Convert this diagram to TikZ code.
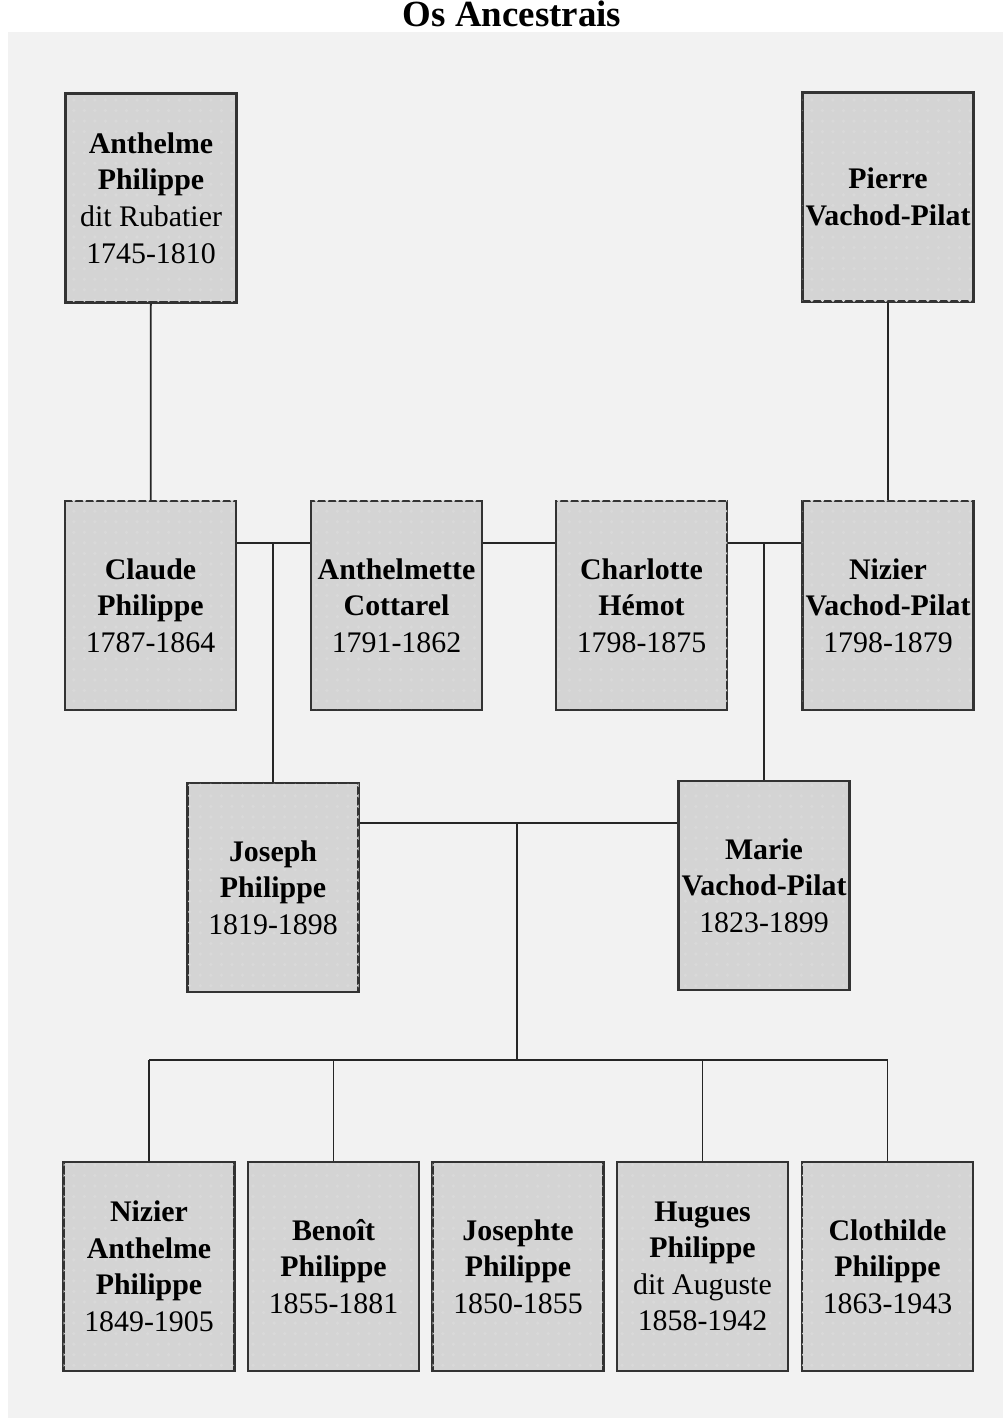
\documentclass[tikz,border=0pt]{standalone}
\usepackage{fontspec}
\setmainfont{Liberation Serif}
\usetikzlibrary{patterns}

\tikzset{
    person/.style={draw=black!80, line width=0.6pt, fill=black!17,
        postaction={pattern=dots, pattern color=white!85!black},
        minimum width=1.71cm, minimum height=2.09cm, inner sep=0pt,
        align=center, font=\fontsize{8.5}{10.4}\selectfont},
    link/.style={draw=black!85, line width=0.5pt}
}

\begin{document}
\begin{tikzpicture}
            \useasboundingbox (0,0) rectangle (10.03,14.18);
            \fill[black!5] (0.08,0) rectangle (10.03,13.86);
            \node[font=\fontsize{10.5}{12}\selectfont\bfseries, anchor=base] (title) at (5.12,13.91) {Os Ancestrais};
            % first generation
            \node[person] (anth) at (1.51,12.20) {\textbf{Anthelme}\\\textbf{Philippe}\\dit Rubatier\\1745-1810};
            \node[person] (pierre) at (8.88,12.21) {\textbf{Pierre}\\\textbf{Vachod-Pilat}};
            % second generation
            \node[person] (claude) at (1.505,8.125) {\textbf{Claude}\\\textbf{Philippe}\\1787-1864};
            \node[person] (anthm) at (3.965,8.125) {\textbf{Anthelmette}\\\textbf{Cottarel}\\1791-1862};
            \node[person] (charl) at (6.415,8.125) {\textbf{Charlotte}\\\textbf{Hémot}\\1798-1875};
            \node[person] (nizvp) at (8.88,8.125) {\textbf{Nizier}\\\textbf{Vachod-Pilat}\\1798-1879};
            % third generation
            \node[person] (joseph) at (2.73,5.305) {\textbf{Joseph}\\\textbf{Philippe}\\1819-1898};
            \node[person] (marie) at (7.64,5.325) {\textbf{Marie}\\\textbf{Vachod-Pilat}\\1823-1899};
            % children
            \node[person] (nizap) at (1.49,1.515) {\textbf{Nizier}\\\textbf{Anthelme}\\\textbf{Philippe}\\1849-1905};
            \node[person] (benoit) at (3.335,1.515) {\textbf{Benoît}\\\textbf{Philippe}\\1855-1881};
            \node[person] (josephte) at (5.18,1.515) {\textbf{Josephte}\\\textbf{Philippe}\\1850-1855};
            \node[person] (hugues) at (7.025,1.515) {\textbf{Hugues}\\\textbf{Philippe}\\dit Auguste\\1858-1942};
            \node[person] (cloth) at (8.875,1.515) {\textbf{Clothilde}\\\textbf{Philippe}\\1863-1943};
            % junctions
            \coordinate (w1) at (2.73,8.75);
            \coordinate (w2) at (7.64,8.75);
            \coordinate (w3) at (5.17,5.95);
            \coordinate (w4) at (5.17,3.58);
            % lines
            \draw[link] (anth) -- (claude);
            \draw[link] (pierre) -- (nizvp);
            \draw[link] (claude.east |- w1) -- (anthm.west |- w1);
            \draw[link] (anthm.east |- w1) -- (charl.west |- w1);
            \draw[link] (charl.east |- w2) -- (nizvp.west |- w2);
            \draw[link] (w1) -- (joseph.north);
            \draw[link] (w2) -- (marie.north);
            \draw[link] (joseph.east |- w3) -- (marie.west |- w3);
            \draw[link] (w3) -- (w4);
            \draw[link] (nizap.north |- w4) -- (cloth.north |- w4);
            \draw[link] (nizap.north |- w4) -- (nizap.north);
            \draw[link] (benoit.north |- w4) -- (benoit.north);
            \draw[link] (hugues.north |- w4) -- (hugues.north);
            \draw[link] (cloth.north |- w4) -- (cloth.north);
        \end{tikzpicture}
\end{document}
